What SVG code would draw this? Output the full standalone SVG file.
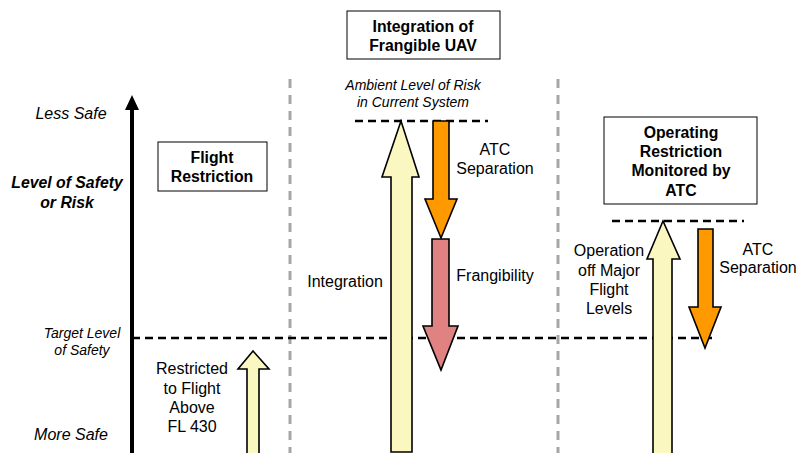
<svg xmlns="http://www.w3.org/2000/svg" width="800" height="453" viewBox="0 0 800 453">
<defs>
<style>
.t{font-family:"Liberation Sans",Arial,sans-serif;font-size:16px;fill:#000;text-anchor:middle}
.b{font-weight:bold;font-size:15.8px}
.i{font-style:italic}
.s{font-size:14px}
.a{font-size:14px}
.box{fill:#fff;stroke:#000;stroke-width:1}
.lvl{stroke:#000;stroke-width:2.5;stroke-dasharray:8,5;fill:none}
.sep{stroke:#a6a6a6;stroke-width:3;stroke-dasharray:9,7;fill:none}
.up{fill:#faf8c0;stroke:#000;stroke-width:1.6;stroke-linejoin:miter}
.or{fill:#ff9900;stroke:#000;stroke-width:1.6}
.pk{fill:#e08282;stroke:#000;stroke-width:1.6}
</style>
</defs>
<rect width="800" height="453" fill="#fff"/>

<g id="separators">
<line class="sep" x1="290" y1="79" x2="290" y2="453"/>
<line class="sep" x1="558" y1="79" x2="558" y2="453"/>
</g>

<g id="axis">
<line x1="132" y1="105" x2="132" y2="453" stroke="#000" stroke-width="4"/>
<polygon points="132,95 125,110 139,110" fill="#000"/>
<text class="t i" x="71" y="119">Less Safe</text>
<text class="t b i" x="67" y="188">Level of Safety</text>
<text class="t b i" x="67" y="208">or Risk</text>
<text class="t i s" x="82" y="338">Target Level</text>
<text class="t i s" x="82" y="355">of Safety</text>
<text class="t i" x="71" y="440">More Safe</text>
</g>

<g id="levels">
<line class="lvl" x1="132" y1="338" x2="714" y2="338"/>
<line class="lvl" x1="355" y1="121" x2="488" y2="121"/>
<line class="lvl" x1="612" y1="221" x2="744" y2="221"/>
</g>

<g id="flight-restriction">
<rect class="box" x="158" y="142" width="109" height="49"/>
<text class="t b" x="212" y="163">Flight</text>
<text class="t b" x="212" y="182">Restriction</text>
</g>

<g id="restricted-arrow">
<polygon class="up" points="253,351 238,369 247,369 247,455 259,455 259,369 269,369"/>
<text class="t" x="192" y="374">Restricted</text>
<text class="t" x="192" y="394">to Flight</text>
<text class="t" x="192" y="413">Above</text>
<text class="t" x="192" y="432">FL 430</text>
</g>

<g id="integration-box">
<rect class="box" x="347" y="11" width="153" height="48"/>
<text class="t b" x="423" y="32">Integration of</text>
<text class="t b" x="423" y="51">Frangible UAV</text>
<text class="t i a" x="413" y="90">Ambient Level of Risk</text>
<text class="t i a" x="413" y="107">in Current System</text>
</g>

<g id="integration-arrow">
<polygon class="up" points="401,121 382,177 391,177 391,452 412,452 412,177 419,177"/>
<text class="t" x="345" y="287">Integration</text>
</g>

<g id="atc-separation-mid">
<polygon class="or" points="433,121 449,121 449,199 457,199 441,238 425,199 433,199"/>
<text class="t" x="495" y="155">ATC</text>
<text class="t" x="495" y="174">Separation</text>
</g>

<g id="frangibility-arrow">
<polygon class="pk" points="432,239 449,239 449,326 458,326 441,370 423,326 432,326"/>
<text class="t" x="495" y="281">Frangibility</text>
</g>

<g id="operating-box">
<rect class="box" x="604" y="117" width="153" height="87"/>
<text class="t b" x="681" y="138">Operating</text>
<text class="t b" x="681" y="157">Restriction</text>
<text class="t b" x="681" y="176">Monitored by</text>
<text class="t b" x="681" y="196">ATC</text>
</g>

<g id="operation-arrow">
<polygon class="up" points="663,221 647,259 653,259 653,455 672,455 672,259 680,259"/>
<text class="t" x="609" y="256">Operation</text>
<text class="t" x="609" y="276">off Major</text>
<text class="t" x="609" y="295">Flight</text>
<text class="t" x="609" y="314">Levels</text>
</g>

<g id="atc-separation-right">
<polygon class="or" points="698,229 713,229 713,307 721,307 705,348 689,307 698,307"/>
<text class="t" x="758" y="255">ATC</text>
<text class="t" x="758" y="273">Separation</text>
</g>
</svg>
